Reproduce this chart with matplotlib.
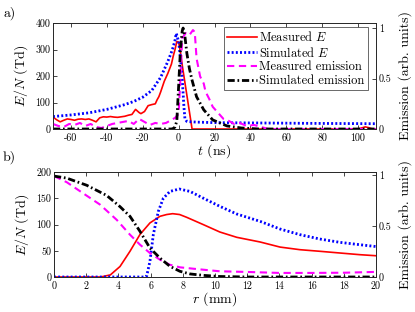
import matplotlib
matplotlib.use("Agg")
import matplotlib.pyplot as plt
from matplotlib.lines import Line2D

plt.rcParams['font.family'] = 'serif'
plt.rcParams['font.serif'] = ['cmr10', 'DejaVu Serif']
plt.rcParams['mathtext.fontset'] = 'cm'
plt.rcParams['axes.unicode_minus'] = False
plt.rcParams['axes.formatter.use_mathtext'] = False

# ---------------- Panel a) data (time, ns) ----------------
t_meas_E = [-70, -68, -66, -64, -62, -60, -58, -56, -54, -52, -50, -48, -46, -44, -42, -40,
            -38, -36, -34, -32, -30, -28, -26, -24, -22, -21, -19, -17, -15, -13, -12, -11,
            -10, -8, -6, -4, -3, -2, -1, 0, 1, 2, 4, 6, 7.5, 20, 40, 60, 80, 100, 102, 104,
            106, 108, 110]
E_meas = [45, 35, 27, 33, 38, 36, 33, 37, 38, 36, 38, 33, 27, 42, 46, 45,
          47, 45, 44, 46, 48, 52, 55, 74, 62, 58, 66, 88, 92, 95, 110, 122,
          140, 180, 210, 245, 275, 300, 330, 328, 290, 242, 154, 66, 0, 0, 0, 0, 0, 0, 4, 8,
          5, 0, 0]

t_sim_E = [-70, -60, -50, -40, -30, -25, -20, -15, -10, -8, -6, -4, -3, -2, -1.3, 0, 1, 2,
           3, 3.5, 4.5, 5, 10, 20, 40, 60, 80, 110]
E_sim = [47, 53, 61, 74, 92, 104, 120, 145, 195, 225, 255, 290, 310, 335, 361, 330, 270, 190,
         80, 40, 29, 28, 26, 24, 23, 22, 21, 20]

t_meas_em = [-70, -67, -64, -61, -58, -55, -52, -49, -46, -43, -40, -37, -34, -31, -28, -25,
             -22, -19, -16, -13, -10, -7, -4, -2, 0, 1, 2, 4, 6, 8, 9, 10, 12, 14, 15, 17,
             19, 21, 23, 25, 28, 31, 34, 38, 42, 46, 50, 110]
em_meas = [0.05, 0.03, 0.02, 0.05, 0.04, 0.06, 0.03, 0.05, 0.02, 0.01, 0.03, 0.05, 0.06,
           0.07, 0.08, 0.05, 0.10, 0.07, 0.04, 0.06, 0.05, 0.06, 0.09, 0.11, 0.15, 0.50,
           0.90, 0.95, 0.93, 0.98, 0.96, 0.70, 0.52, 0.45, 0.37, 0.30, 0.22, 0.18, 0.14,
           0.10, 0.08, 0.05, 0.06, 0.03, 0.04, 0.02, 0.0, 0.0]

t_sim_em = [-70, -10, -4, -3, -2, -1, 0, 1, 2, 2.5, 3.5, 4.6, 6, 7.4, 10, 14, 19, 27, 35,
            45, 110]
em_sim = [0, 0, 0, 0.005, 0.02, 0.08, 0.42, 0.78, 0.97, 1.0, 0.92, 0.75, 0.60, 0.49, 0.32,
          0.19, 0.09, 0.03, 0.01, 0, 0]

# ---------------- Panel b) data (radius, mm) ----------------
r_meas_E = [0, 1, 2, 2.9, 3.5, 4.1, 4.72, 5.34, 5.96, 6.58, 7.0, 7.37, 7.8, 8.24, 9.28, 10.3,
            11.35, 12.8, 14.04, 15.28, 16.5, 17.76, 19.0, 20]
E_meas_r = [0, 0, 0, 0, 4, 20, 49, 81, 103, 115.6, 119, 120.6, 119, 113.7, 99.7, 85.7,
            75.6, 66.7, 57, 52, 49, 45.7, 42.5, 40.5]

r_sim_E = [0, 2, 4, 5.6, 5.76, 5.96, 6.17, 6.48, 6.79, 7.2, 7.78, 8.45, 9.28, 10.3, 11.35,
           12.8, 14.04, 15.28, 16.5, 17.76, 19.0, 20]
E_sim_r = [0, 0, 0, 0, 2, 30, 81, 125, 150, 163, 167.6, 163, 150, 134.6, 120, 106, 91.4,
           80.6, 72.4, 66, 61.5, 58]

r_meas_em = [0, 0.79, 1.82, 2.86, 3.9, 4.72, 5.34, 5.96, 6.58, 7.2, 7.82, 8.86, 10.3, 11.9,
             14, 16, 18, 20]
em_meas_r = [0.99, 0.93, 0.82, 0.71, 0.56, 0.415, 0.317, 0.235, 0.17, 0.12, 0.095, 0.078,
             0.056, 0.05, 0.04, 0.04, 0.042, 0.05]

r_sim_em = [0, 0.79, 2.03, 3.27, 4.1, 4.72, 5.34, 5.96, 6.58, 7.2, 7.82, 8.45, 9.28, 10.3,
            12, 20]
em_sim_r = [0.99, 0.97, 0.90, 0.80, 0.69, 0.595, 0.448, 0.284, 0.186, 0.105, 0.056, 0.03,
            0.016, 0.005, 0.0, 0.0]

# ticks
t_ticks = [-60, -40, -20, 0, 20, 40, 60, 80, 100]
t_ticklabels = ['-60', '-40', '-20', '0', '20', '40', '60', '80', '100']
Ea_ticks = [0, 100, 200, 300, 400]
r_ticks = [0, 2, 4, 6, 8, 10, 12, 14, 16, 18, 20]
Eb_ticks = [0, 50, 100, 150, 200]
em_ticks = [0, 0.5, 1]
em_ticklabels = ['0', '0.5', '1']

legend_labels = ['Measured $E$', 'Simulated $E$', 'Measured emission', 'Simulated emission']

# styles
c_red, c_blue, c_mag, c_blk = '#ff0000', '#0000ff', '#ff00ff', '#000000'
st_red = dict(color=c_red, lw=1.2, ls='-')
st_blue = dict(color=c_blue, lw=2.0, ls=(0, (0.7, 0.8)))
st_mag = dict(color=c_mag, lw=1.5, ls=(0, (3.5, 2.2)))
st_blk = dict(color=c_blk, lw=2.0, ls=(0, (2.6, 1.0, 0.6, 1.0)))

fig = plt.figure(figsize=(4.15, 3.12), dpi=100)
ax1 = fig.add_axes([53/415, 1-129/312, (376-53)/415, (129-23)/312])
ax2 = fig.add_axes([54/415, 1-277/312, (376-54)/415, (277-172)/312])

tick_fs = 7.2
lab_fs = 10

def style_axes(ax, twin):
    for a in (ax, twin):
        for s in a.spines.values():
            s.set_color('#262626')
            s.set_linewidth(0.6)
    ax.tick_params(axis='both', direction='in', length=3, width=0.6, labelsize=tick_fs,
                   top=True, right=False, colors='#262626', labelcolor='black', pad=2)
    ax.tick_params(axis='x', pad=3)
    twin.tick_params(axis='y', direction='in', length=3, width=0.6, labelsize=tick_fs,
                     colors='#262626', labelcolor='black', pad=2)

# Panel a
ax1b = ax1.twinx()
ax1.plot(t_meas_E, E_meas, **st_red)
ax1.plot(t_sim_E, E_sim, **st_blue)
ax1b.plot(t_meas_em, em_meas, **st_mag)
ax1b.plot(t_sim_em, em_sim, **st_blk)
ax1.set_xlim(-70, 110)
ax1.set_ylim(0, 400)
ax1b.set_ylim(0, 1.05)
ax1.set_xticks(t_ticks)
ax1.set_xticklabels(t_ticklabels)
ax1.set_yticks(Ea_ticks)
ax1b.set_yticks(em_ticks)
ax1b.set_yticklabels(em_ticklabels)
style_axes(ax1, ax1b)
ax1.set_xlabel('$t$ (ns)', fontsize=lab_fs, labelpad=0)
ax1.set_ylabel('$E/N$ (Td)', fontsize=lab_fs, labelpad=4)
ax1b.set_ylabel('Emission (arb. units)', fontsize=lab_fs, labelpad=5)

handles = [Line2D([], [], **st_red), Line2D([], [], **st_blue),
           Line2D([], [], **st_mag), Line2D([], [], **st_blk)]
leg = ax1b.legend(handles, legend_labels, loc='upper right', fontsize=9,
                  bbox_to_anchor=(0.975, 0.96), frameon=True, fancybox=False,
                  handlelength=2.4, handletextpad=0.2, labelspacing=0.12,
                  borderpad=0.25, borderaxespad=0.0)
leg.get_frame().set_edgecolor('#262626')
leg.get_frame().set_linewidth(0.6)

# Panel b
ax2b = ax2.twinx()
ax2.plot(r_meas_E, E_meas_r, **st_red)
ax2.plot(r_sim_E, E_sim_r, **st_blue)
ax2b.plot(r_meas_em, em_meas_r, **st_mag)
ax2b.plot(r_sim_em, em_sim_r, **st_blk)
ax2.set_xlim(0, 20)
ax2.set_ylim(0, 200)
ax2b.set_ylim(0, 1.03)
ax2.set_xticks(r_ticks)
ax2.set_yticks(Eb_ticks)
ax2b.set_yticks(em_ticks)
ax2b.set_yticklabels(em_ticklabels)
style_axes(ax2, ax2b)
ax2.set_xlabel('$r$ (mm)', fontsize=lab_fs, labelpad=0)
ax2.set_ylabel('$E/N$ (Td)', fontsize=lab_fs, labelpad=4)
ax2b.set_ylabel('Emission (arb. units)', fontsize=lab_fs, labelpad=5)

fig.text(3/415, 1-13/312, 'a)', fontsize=10, va='center', ha='left')
fig.text(3/415, 1-157/312, 'b)', fontsize=10, va='center', ha='left')

fig.savefig('out.png', dpi=100)
